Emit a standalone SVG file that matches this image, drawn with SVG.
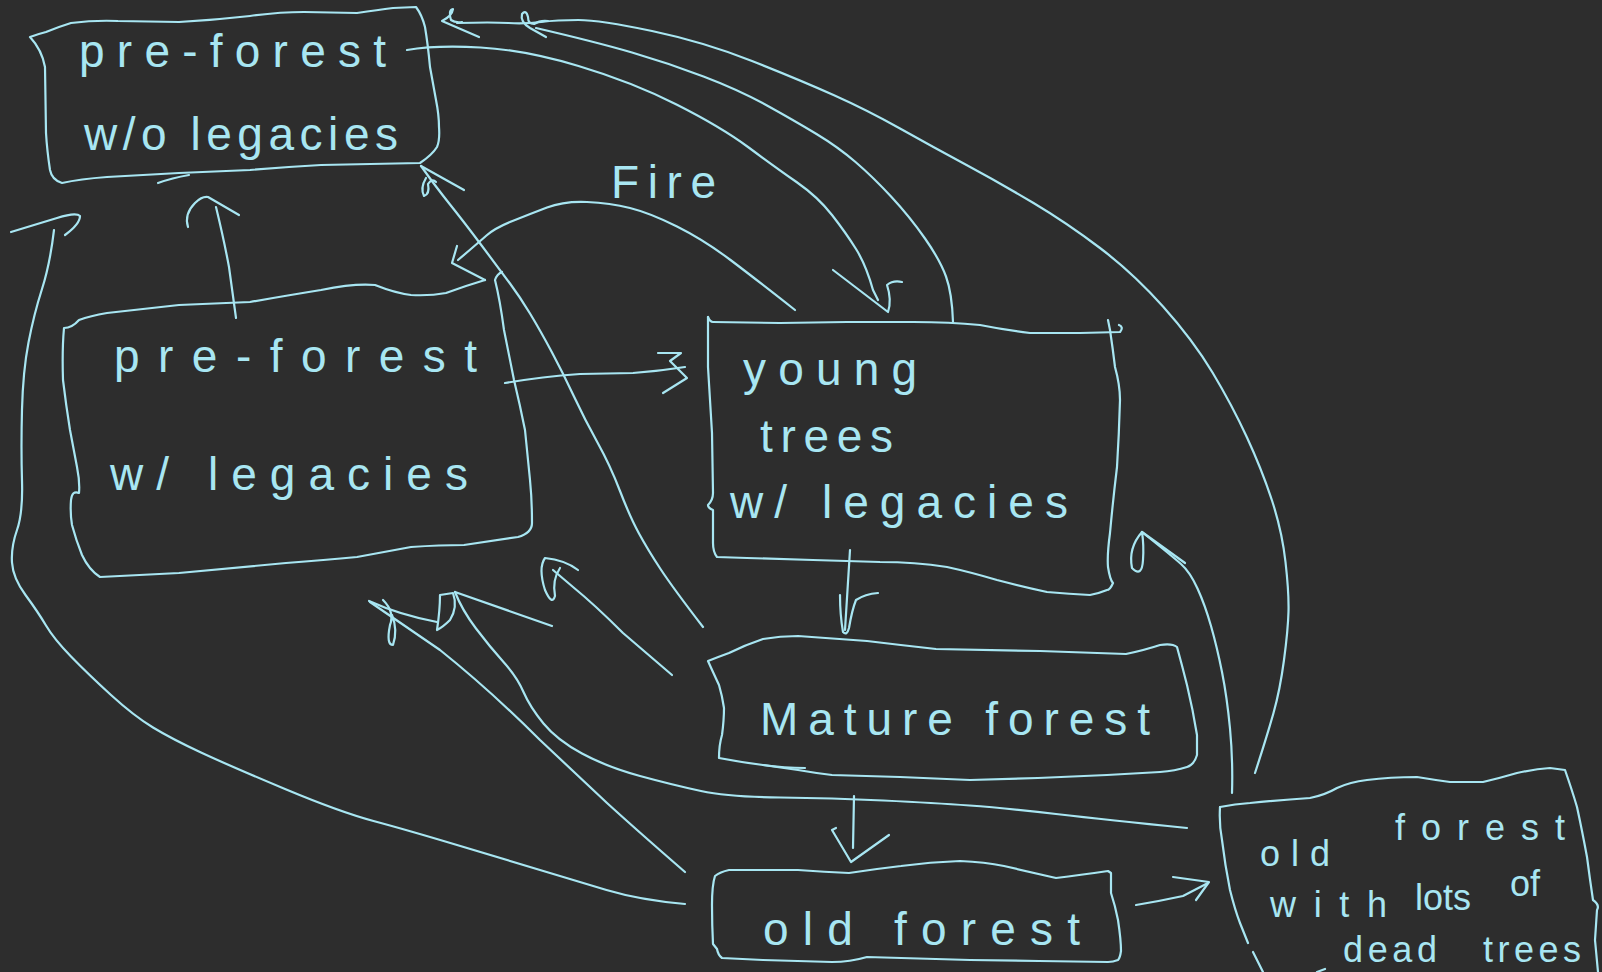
<svg xmlns="http://www.w3.org/2000/svg" width="1602" height="972" viewBox="0 0 1602 972">
<style>
.s{fill:none;stroke:#a8e6f2;stroke-width:2.2;stroke-linecap:round;stroke-linejoin:round}
.t{fill:#a8e6f2;font-family:"Liberation Sans",Arial,sans-serif;font-size:46px}
.u{fill:#a8e6f2;font-family:"Liberation Sans",Arial,sans-serif;font-size:36px}
</style>
<rect width="1602" height="972" fill="#2d2d2d"/>
<g id="connectors" class="s">
<path d="M1255,773 Q1267,736 1273.5,713 Q1280,690 1284,660 Q1288,630 1288.5,611.5 Q1289,593 1285.5,562 Q1282,531 1272,500.5 Q1262,470 1247,437.5 Q1232,405 1212.5,372.5 Q1193,340 1163,306.5 Q1133,273 1100,248 Q1067,223 1033.5,203 Q1000,183 966.5,165 Q933,147 900,128.5 Q867,110 833.5,95 Q800,80 752,61 Q704,42 652,31 Q600,20 578.5,20 Q557,20 541,22 Q525,24 508.5,23 Q492,22 457,23"/>
<path d="M479,37 L442,21 Q452,16 453,9 Q448,10 451,20 Q455,23 462,22"/>
<path d="M953,322 Q952,293 946,276.5 Q940,260 925,238.5 Q910,217 891.5,197 Q873,177 855.5,162 Q838,147 816.5,134 Q795,121 767,105.5 Q739,90 703.5,76.5 Q668,63 632,52.5 Q596,42 536,28"/>
<path d="M546,37 L530,28 Q520,22 522,14 Q526,9 528,17 Q528,24 534,24 Q540,20 548,21"/>
<path d="M407,50 Q436,45 480.5,47.5 Q525,50 578.5,66 Q632,82 676.5,104.5 Q721,127 748,147 Q775,167 796.5,182 Q818,197 832,215 Q846,233 856,249 Q866,265 873,290 L878,300"/>
<path d="M833,270 L888,312 Q892,300 887,285 Q893,280 902,282"/>
<path d="M795,310 Q757,280 730.5,260 Q704,240 677,226.5 Q650,213 630,208 Q610,203 587,202 Q564,201 547,207.5 Q530,214 512.5,221 Q495,228 486.5,235.5 Q478,243 458,260"/>
<path d="M457,246 L452,263 L485,280"/>
<path d="M703,627 Q673,588 660.5,569 Q648,550 639,533.5 Q630,517 620,491 Q610,465 597.5,442.5 Q585,420 574,396.5 Q563,373 551.5,351.5 Q540,330 530,313.5 Q520,297 510,283.5 Q500,270 482,246 Q464,222 450,204.5 Q436,187 421,166"/>
<path d="M421,166 L464,190 M426,178 Q420,188 424,196 Q430,194 428,184 Q432,178 436,182"/>
<path d="M505,383 Q540,377 580,374 L633,373 Q660,371 685,367"/>
<path d="M658,353 L681,353 L670,361 L687,378 L663,393"/>
<path d="M236,318 L229,267 Q224,240 216,207"/>
<path d="M188,227 Q184,214 195,203 Q202,196 208,197 L239,215"/>
<path d="M850,550 L847,598 L845,630"/>
<path d="M840,595 Q840,615 843,632 Q847,636 849,628 Q852,610 856,600 Q865,594 878,593"/>
<path d="M854,796 L853,848"/>
<path d="M836,828 L832,830 L851,862 L889,835"/>
<path d="M1136,905 Q1160,901 1183,896 L1208,883"/>
<path d="M1173,877 L1209,882 L1196,900"/>
<path d="M1232,793 Q1233,760 1230,728.5 Q1227,697 1222,672 Q1217,647 1211,626 Q1205,605 1197.5,588.5 Q1190,572 1181,564 Q1172,556 1142,532"/>
<path d="M1185,563 L1142,532 Q1128,548 1132,568 Q1142,578 1143,560 Q1144,545 1142,532"/>
<path d="M685,904 Q640,900 606.5,890 Q573,880 540,870 Q507,860 457,845 Q407,830 373.5,821 Q340,812 285,789 Q230,766 201,752.5 Q172,739 153,727.5 Q134,716 111,695 Q88,674 71,656.5 Q54,639 46,625.5 Q38,612 25.5,595 Q13,578 12,562.5 Q11,547 17,530 Q23,513 22,480.5 Q21,448 22,409.5 Q23,371 28.5,342.5 Q34,314 42,289 Q50,264 54,230"/>
<path d="M11,232 L57,218 Q76,212 80,216 Q80,224 65,235"/>
<path d="M685,872 Q640,833 607,803 L540,740 Q490,690 440,650 L370,602"/>
<path d="M369,601 Q400,615 437,622"/>
<path d="M383,600 Q395,612 390,625 Q386,645 393,645 Q398,630 392,615"/>
<path d="M437,630 Q440,610 440,595 L453,593 Q458,607 450,620 Q443,627 437,630 Z"/>
<path d="M455,592 L552,626"/>
<path d="M1187,828 Q1108,820 1056,814 Q1004,808 969.5,805.5 Q935,803 883.5,800.5 Q832,798 780.5,797.5 Q729,797 701,791 Q673,785 640,776 Q607,767 582,753.5 Q557,740 543.5,723.5 Q530,707 523.5,692 Q517,677 503.5,662 Q490,647 476,628.5 Q462,610 455,592"/>
<path d="M672,675 Q645,652 623,633 Q595,605 573,587 L553,570"/>
<path d="M578,570 Q565,560 545,558 Q538,568 545,590 Q552,606 555,596 Q552,580 560,568"/>
</g>
<g id="node-preforest-wo-legacies">
<path class="s" d="M30,37 Q38,34 46,32 Q58,27 71,23 Q95,20 118,21 L179,22 Q215,20 250,16 Q280,12 304,12 L357,13 Q378,10 393,8 L416,7 Q422,15 425,27 Q428,45 430,67 L436,100 Q439,115 439,127 Q440,140 437,147 Q432,155 420,163 L321,165 Q285,167 250,170 L179,173 L107,177 Q80,179 62,183 Q52,180 50,170 Q47,150 46,133 L45,67 Q42,50 30,37 Z"/>
<path class="s" d="M158,183 Q172,178 189,175"/>
<text class="t" x="79" y="67" textLength="307" lengthAdjust="spacing">pre-forest</text>
<text class="t" x="84" y="150" textLength="314" lengthAdjust="spacing">w/o legacies</text>
</g>
<g id="node-preforest-w-legacies">
<path class="s" d="M485,280 Q465,286 446,293 Q430,296 411,295 Q395,293 375,285 Q355,283 321,290 Q290,295 250,302 L179,305 L107,313 Q90,316 79,320 Q72,328 64,328 Q62,350 63,380 Q66,405 70,430 L77,467 Q80,482 79,493 Q72,490 71,500 Q70,513 72,525 Q76,540 82,555 Q89,570 100,577 L179,573 L286,563 Q325,560 357,557 L411,547 Q440,545 464,545 L518,537 Q532,533 532,523 Q532,500 530,480 L525,430 Q520,405 514,380 Q508,350 504,330 Q500,300 495,280 Q497,274 502,272"/>
<text class="t" x="114" y="372" font-size="48" textLength="363" lengthAdjust="spacing">pre-forest</text>
<text class="t" x="110" y="490" font-size="48" textLength="358" lengthAdjust="spacing">w/ legacies</text>
</g>
<g id="node-young-trees">
<path class="s" d="M708,317 Q710,322 713,322 L780,323 L847,322 L913,322 Q950,322 980,325 Q1005,330 1030,333 L1080,333 L1120,332 Q1124,327 1119,325"/>
<path class="s" d="M1108,320 L1110,330 Q1113,350 1115,367 Q1120,385 1120,400 Q1119,435 1117,467 Q1113,500 1110,533 Q1107,555 1108,567 Q1110,580 1113,583 Q1110,590 1107,590 Q1100,593 1090,595 Q1070,594 1047,592 Q1020,586 997,580 Q970,572 947,567 Q915,562 880,562 L813,560 L747,558 L717,557 Q713,552 713,543 L713,510 Q708,508 708,505 Q713,500 713,493 L712,433 Q710,400 708,367 L708,317"/>
<text class="t" x="743" y="385" textLength="174" lengthAdjust="spacing">young</text>
<text class="t" x="760" y="452" textLength="133" lengthAdjust="spacing">trees</text>
<text class="t" x="730" y="518" textLength="338" lengthAdjust="spacing">w/ legacies</text>
</g>
<g id="node-mature-forest">
<path class="s" d="M708,661 Q718,657 729,653 Q745,645 763,639 Q780,636 798,636 L867,641 Q900,645 936,649 L1040,651 L1126,654 Q1145,650 1160,645 Q1172,643 1177,647 Q1182,665 1187,685 Q1193,710 1197,735 L1197,755 Q1194,765 1187,767 Q1175,771 1160,772 L1107,775 L1038,778 L970,780 L900,777 L832,775 Q815,773 798,770 L763,765 Q740,762 719,758 Q719,745 722,735 Q724,720 724,708 Q722,695 719,685 Q712,670 708,661 Z"/>
<path class="s" d="M763,765 Q785,768 805,768"/>
<text class="t" x="760" y="735" font-size="50" textLength="390" lengthAdjust="spacing">Mature forest</text>
</g>
<g id="node-old-forest">
<path class="s" d="M715,876 Q720,872 729,870 L798,870 Q825,872 849,873 Q875,869 901,866 Q930,862 960,861 Q985,862 1004,866 Q1030,872 1056,878 Q1080,875 1108,871 L1111,873 L1111,893 Q1115,905 1118,920 Q1121,940 1121,951 Q1120,958 1118,960 Q1113,962 1108,962 L1039,961 L970,960 L867,957 Q850,962 832,962 L763,960 L722,958 Q718,955 717,949 L713,944 Q712,925 712,905 Q712,885 715,876 Z"/>
<text class="t" x="763" y="945" font-size="48" textLength="317" lengthAdjust="spacing">old forest</text>
</g>
<g id="node-old-forest-dead-trees">
<path class="s" d="M1220,807 Q1235,804 1250,803 Q1280,800 1310,798 Q1325,795 1337,788 Q1350,782 1367,780 Q1390,777 1417,777 Q1435,780 1450,782 L1483,782 Q1500,778 1517,773 Q1535,769 1550,768 L1565,770 Q1572,790 1577,807 Q1582,830 1587,857 Q1590,880 1593,900 Q1600,905 1597,910 L1595,940 L1598,972"/>
<path class="s" d="M1220,807 Q1219,825 1222,840 Q1225,865 1230,890 Q1235,910 1240,923 L1248,943 M1253,952 L1263,972 M1317,972 L1325,969"/>
<text class="u" x="1260" y="866" font-size="42" textLength="70" lengthAdjust="spacing">old</text>
<text class="u" x="1395" y="840" font-size="42" textLength="170" lengthAdjust="spacing">forest</text>
<text class="u" x="1270" y="917" textLength="117" lengthAdjust="spacing">with</text>
<text class="u" x="1415" y="910">lots</text>
<text class="u" x="1510" y="896">of</text>
<text class="u" x="1343" y="962" textLength="94" lengthAdjust="spacing">dead</text>
<text class="u" x="1483" y="962" textLength="98" lengthAdjust="spacing">trees</text>
</g>
<g id="label-fire">
<text class="t" x="611" y="198" font-size="56" textLength="105" lengthAdjust="spacing">Fire</text>
</g>
</svg>
